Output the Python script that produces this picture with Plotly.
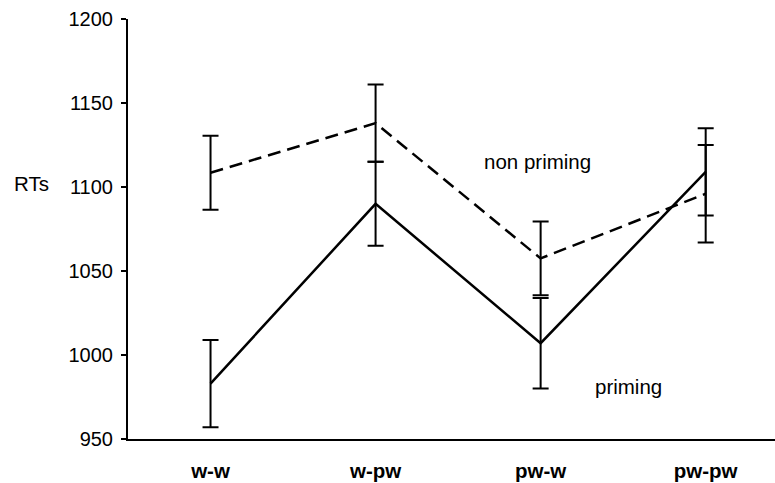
import plotly.graph_objects as go

categories = ["w-w", "w-pw", "pw-w", "pw-pw"]
priming = [983, 1090, 1007, 1109]
priming_err = [26, 25, 27, 26]
non_priming = [1108.5, 1138, 1057.5, 1096]
non_priming_err = [22, 23, 22, 29]
y_ticks = [950, 1000, 1050, 1100, 1150, 1200]

xs = list(range(len(categories)))
FONT = "Arial, Liberation Sans, sans-serif"

fig = go.Figure()
fig.add_trace(go.Scatter(
    x=xs, y=non_priming, mode="lines",
    line=dict(color="black", width=2.5, dash="13px,7px"),
    error_y=dict(type="data", array=non_priming_err, visible=True,
                 color="black", thickness=2, width=8),
    name="non priming", showlegend=False, cliponaxis=False, hoverinfo="skip",
))
fig.add_trace(go.Scatter(
    x=xs, y=priming, mode="lines",
    line=dict(color="black", width=2.5),
    error_y=dict(type="data", array=priming_err, visible=True,
                 color="black", thickness=2, width=8),
    name="priming", showlegend=False, cliponaxis=False, hoverinfo="skip",
))

fig.add_annotation(x=1.98, y=1115, xref="x", yref="y", text="non priming",
                   showarrow=False, font=dict(family=FONT, size=20.5, color="black"))
fig.add_annotation(x=2.53, y=981, xref="x", yref="y", text="priming",
                   showarrow=False, font=dict(family=FONT, size=20.5, color="black"))
fig.add_annotation(x=-0.18, y=1102, xref="paper", yref="y", text="RTs",
                   showarrow=False, xanchor="left",
                   font=dict(family=FONT, size=20.5, color="black"))

fig.update_layout(
    width=775, height=483,
    margin=dict(l=128, r=0, t=19, b=44),
    paper_bgcolor="white", plot_bgcolor="white",
    font=dict(family=FONT, color="black"),
    xaxis=dict(
        tickmode="array", tickvals=xs,
        ticktext=["<b>%s</b>" % c for c in categories],
        range=[-0.5, 3.42], showgrid=False, zeroline=False,
        showline=True, linecolor="black", linewidth=2,
        ticks="", ticklabelstandoff=12, automargin=False,
        tickfont=dict(family=FONT, size=20.5, color="black"),
    ),
    yaxis=dict(
        range=[950, 1200], tickvals=y_ticks, showgrid=False, zeroline=False,
        showline=True, linecolor="black", linewidth=2,
        ticks="outside", ticklen=5, tickwidth=2, tickcolor="black",
        ticklabelstandoff=4, automargin=False,
        tickfont=dict(family=FONT, size=20, color="black"),
    ),
)

fig.write_html(
    "out.html",
    config={"displayModeBar": False},
    post_script="document.body.style.margin='0';document.body.style.overflow='hidden';",
)
